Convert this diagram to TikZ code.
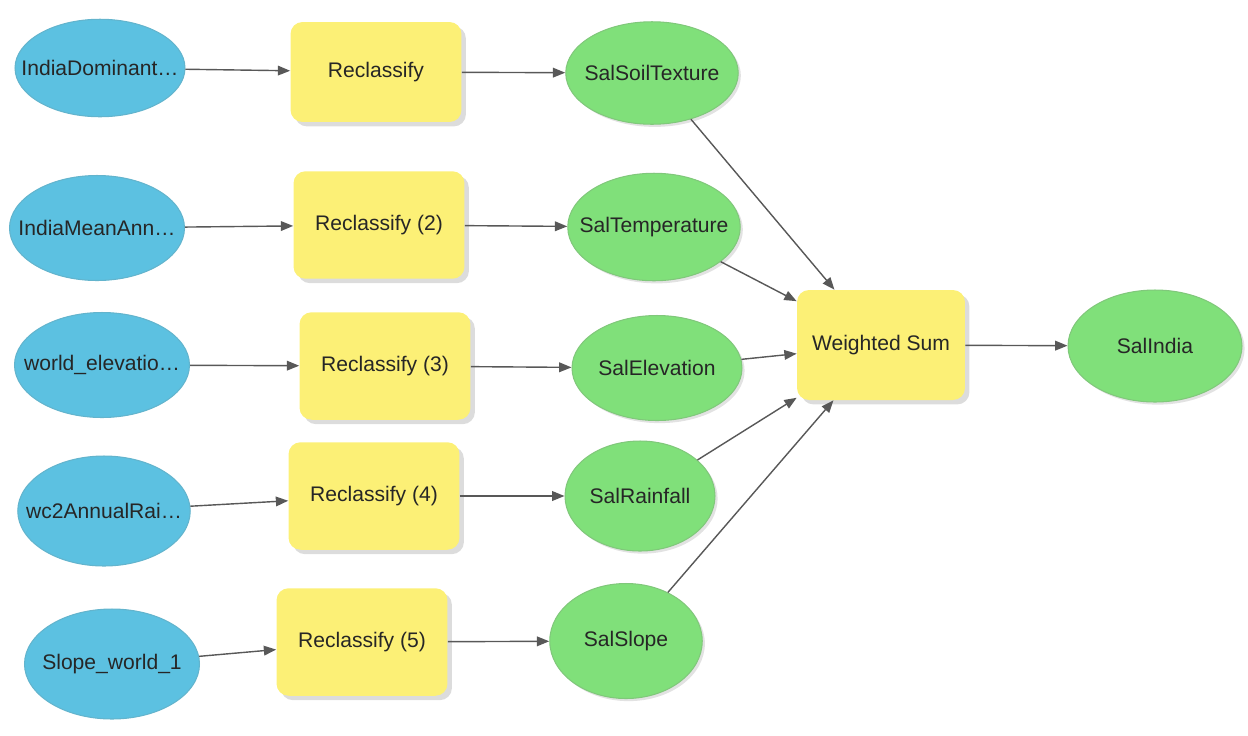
\documentclass[tikz,border=0pt]{standalone}
\usepackage{fontspec}
\setmainfont{Liberation Sans}
\usetikzlibrary{shapes.geometric,arrows.meta,shadows}
\definecolor{datablue}{RGB}{92,193,225}
\definecolor{toolyellow}{RGB}{252,240,118}
\definecolor{outgreen}{RGB}{128,224,122}
\definecolor{linkgray}{RGB}{88,88,88}
\begin{document}
\begin{tikzpicture}[x=0.02cm, y=-0.02cm,
    every node/.style={text=black!85, font=\fontsize{12}{14}\selectfont},
    inputdata/.style={ellipse, fill=datablue, draw=datablue!80!gray, line width=0.6pt,
        minimum width=3.5cm, minimum height=2.1cm, inner sep=0pt, inner xsep=-2cm},
    outdata/.style={ellipse, fill=outgreen, draw=outgreen!75!gray, line width=0.6pt,
        minimum width=3.45cm, minimum height=2.15cm, inner sep=0pt, inner xsep=-2cm,
        drop shadow={shadow xshift=1.5pt, shadow yshift=-1.5pt, fill=gray!45}},
    tool/.style={rectangle, rounded corners=0.24cm, fill=toolyellow, draw=none,
        minimum width=3.42cm, minimum height=2.15cm, inner sep=0pt,
        drop shadow={shadow xshift=2.5pt, shadow yshift=-2.5pt, fill=gray!55}},
    link/.style={-{Triangle[length=7pt,width=5.5pt]}, draw=linkgray, line width=0.8pt}]
    \useasboundingbox (0,0) rectangle (1248,735);
    % ---------- inputs ----------
    \node[inputdata, minimum width=3.4cm, minimum height=1.95cm] (in1) at (100,68) {IndiaDominant\ldots};
    \node[inputdata] (in2) at (97,228) {IndiaMeanAnn\ldots};
    \node[inputdata] (in3) at (102,365) {world\_elevatio\ldots};
    \node[inputdata, minimum width=3.45cm, minimum height=2.2cm] (in4) at (104,511) {wc2AnnualRai\ldots};
    \node[inputdata, minimum height=2.2cm] (in5) at (112,664) {Slope\_world\_1};
    % ---------- Reclassify tools ----------
    \node[tool, minimum height=2cm] (rc1) at (376,72) {Reclassify};
    \node[tool] (rc2) at (379,225) {Reclassify (2)};
    \node[tool] (rc3) at (385,366) {Reclassify (3)};
    \node[tool] (rc4) at (374,496) {Reclassify (4)};
    \node[tool] (rc5) at (362,642) {Reclassify (5)};
    % ---------- outputs ----------
    \node[outdata, minimum height=2.05cm] (sal1) at (652,73) {SalSoilTexture};
    \node[outdata] (sal2) at (654,227) {SalTemperature};
    \node[outdata, minimum width=3.4cm, minimum height=2.1cm] (sal3) at (657,368) {SalElevation};
    \node[outdata, minimum width=3cm, minimum height=2.2cm] (sal4) at (640,496) {SalRainfall};
    \node[outdata, minimum width=3.05cm, minimum height=2.3cm] (sal5) at (626,641) {SalSlope};
    % ---------- Weighted Sum ----------
    \node[tool, minimum width=3.36cm, minimum height=2.2cm] (ws) at (881,345) {Weighted Sum};
    \node[outdata, minimum width=3.48cm, minimum height=2.24cm] (india) at (1155,346) {SalIndia};
    % ---------- links ----------
    \draw[link] (in1) -- (rc1);
    \draw[link] (in2) -- (rc2);
    \draw[link] (in3) -- (rc3);
    \draw[link] (in4) -- (rc4);
    \draw[link] (in5) -- (rc5);
    \draw[link] (rc1) -- (sal1);
    \draw[link] (rc2) -- (sal2);
    \draw[link] (rc3) -- (sal3);
    \draw[link] (rc4) -- (sal4);
    \draw[link] (rc5) -- (sal5);
    \draw[link] (sal1) -- (ws);
    \draw[link] (sal2) -- (ws);
    \draw[link] (sal3) -- (ws);
    \draw[link] (sal4) -- (ws);
    \draw[link] (sal5) -- (ws);
    \draw[link] (ws) -- (india);
\end{tikzpicture}
\end{document}
